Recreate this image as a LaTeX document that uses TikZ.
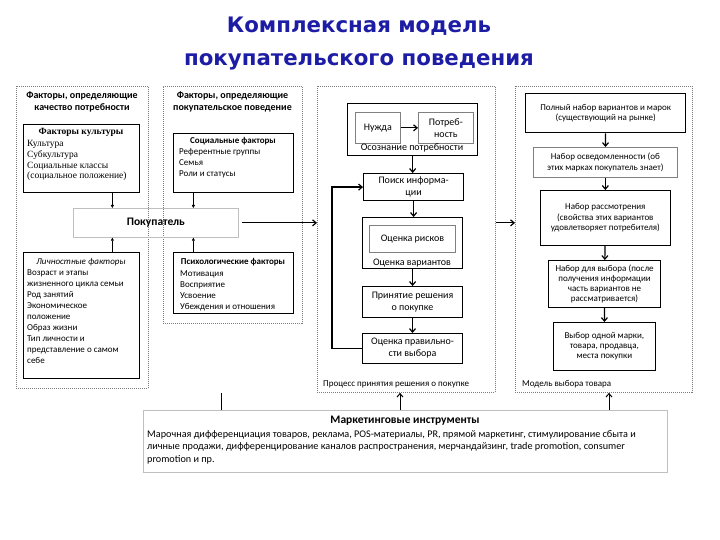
\documentclass[tikz,border=0pt]{standalone}
\usepackage{fontspec}
\setmainfont{Carlito}
\newfontfamily\titlefont{DejaVu Sans}
\newfontfamily\timesfont{Liberation Serif}
\usetikzlibrary{arrows.meta}
\definecolor{titleblue}{RGB}{28,28,165}
\definecolor{framegray}{RGB}{125,125,125}

\begin{document}
\begin{tikzpicture}[x=1pt,y=-1pt,
  group/.style={draw=framegray,dash pattern=on 1pt off 1pt,line width=0.8pt,anchor=north west,inner sep=0pt},
  box/.style={draw,line width=0.7pt,anchor=north west,inner sep=1pt},
  small/.style={font=\fontsize{9}{10.2}\selectfont},
  flow/.style={font=\fontsize{10}{12}\selectfont},
  head/.style={font=\bfseries\fontsize{10}{12}\selectfont,align=center,inner sep=0pt},
  item/.style={inner sep=0pt,anchor=base west,font=\fontsize{9}{10}\selectfont},
  arrow/.style={-{Straight Barb[length=3.5pt,width=6pt]},line width=1.2pt},
  tick/.style={-{Triangle[length=3pt,width=3pt]},line width=0.5pt}]
  \useasboundingbox (0,0) rectangle (720,540);

  % title
  \node[font=\titlefont\bfseries\fontsize{21.3}{25}\selectfont,text=titleblue,anchor=base] (title1) at (359,33) {Комплексная модель};
  \node[font=\titlefont\bfseries\fontsize{21.3}{25}\selectfont,text=titleblue,anchor=base] (title2) at (359,66) {покупательского поведения};

  % dotted groups
  \node[group,minimum width=132pt,minimum height=302pt] (grpA) at (16,86) {};
  \node[group,minimum width=139pt,minimum height=237pt] (grpB) at (163,86) {};
  \node[group,minimum width=178pt,minimum height=306pt] (grpC) at (317,86) {};
  \node[group,minimum width=177pt,minimum height=306pt] (grpD) at (515,86) {};

  \node[head,anchor=north] (hdA) at (82,92) {Факторы, определяющие\\качество потребности};
  \node[head,anchor=north] (hdB) at (232.5,92) {Факторы, определяющие\\покупательское поведение};

  % factor boxes
  \node[box,minimum width=116pt,minimum height=68pt] (cult) at (23,124) {};
  \node[item,anchor=base,font=\timesfont\bfseries\fontsize{9.5}{11}\selectfont] (cultH) at (81,135) {Факторы культуры};
  \foreach \t [count=\i from 0] in {Культура,Субкультура,Социальные классы,{(социальное положение)}}
    \node[item,font=\timesfont\fontsize{9.5}{11}\selectfont] (cult-\i) at (27,146.7+10.7*\i) {\t};

  \node[box,minimum width=120pt,minimum height=59pt] (soc) at (173,133) {};
  \node[item,anchor=base,font=\bfseries\fontsize{9}{10}\selectfont] (socH) at (233,144) {Социальные факторы};
  \foreach \t [count=\i from 0] in {Референтные группы,Семья,Роли и статусы}
    \node[item] (soc-\i) at (179,155+11*\i) {\t};

  \node[box,draw=lightgray,minimum width=165pt,minimum height=29pt,font=\bfseries\fontsize{11.5}{13}\selectfont] (buyer) at (73,208) {Покупатель};

  \node[box,minimum width=116pt,minimum height=126pt] (pers) at (23,252) {};
  \node[item,anchor=base,font=\itshape\fontsize{9}{10}\selectfont] (persH) at (81,264) {Личностные факторы};
  \foreach \t [count=\i from 0] in {Возраст и этапы,жизненного цикла семьи,Род занятий,Экономическое,положение,Образ жизни,Тип личности и,представление о самом,себе}
    \node[item] (pers-\i) at (27,275+11.1*\i) {\t};

  \node[box,minimum width=120pt,minimum height=61pt] (psy) at (173,252) {};
  \node[item,anchor=base,font=\bfseries\fontsize{9}{10}\selectfont] (psyH) at (233,264) {Психологические факторы};
  \foreach \t [count=\i from 0] in {Мотивация,Восприятие,Усвоение,Убеждения и отношения}
    \node[item] (psy-\i) at (180,276+11*\i) {\t};

  \coordinate (c1) at ([xshift=31pt]cult.south);
  \coordinate (c2) at ([xshift=-40pt]soc.south);
  \coordinate (c3) at ([xshift=31pt]pers.north);
  \coordinate (c4) at ([xshift=-40pt]psy.north);
  \draw[tick] (c1) -- (c1 |- buyer.north);
  \draw[tick] (c2) -- (c2 |- buyer.north);
  \draw[tick] (c3) -- (c3 |- buyer.south);
  \draw[tick] (c4) -- (c4 |- buyer.south);

  % decision process
  \node[box,line width=1.3pt,minimum width=130pt,minimum height=52pt] (aware) at (347,103) {};
  \node[box,draw=gray,minimum width=45pt,minimum height=31pt,flow] (need) at (355,112) {Нужда};
  \node[box,draw=gray,minimum width=55pt,minimum height=31pt,flow,align=center] (potr) at (418,112) {Потреб-\\ность};
  \node[flow,anchor=base,inner sep=0pt] (awareL) at (412,151) {Осознание потребности};
  \node[box,line width=1.2pt,minimum width=100pt,minimum height=27pt,flow,align=center] (search) at (363,173) {Поиск информа-\\ции};
  \node[box,line width=1.2pt,minimum width=100pt,minimum height=51pt] (evalv) at (362,217) {};
  \node[box,draw=gray,line width=1pt,minimum width=86pt,minimum height=27pt,flow] (risk) at (369,225) {Оценка рисков};
  \node[flow,anchor=base,inner sep=0pt] (evalvL) at (412,265) {Оценка вариантов};
  \node[box,line width=1pt,minimum width=100pt,minimum height=31pt,flow,align=center] (decide) at (362,286) {Принятие решения\\о покупке};
  \node[box,line width=1pt,minimum width=100pt,minimum height=30pt,flow,align=center] (post) at (362,333) {Оценка правильно-\\сти выбора};
  \node[small,anchor=base west,inner sep=0pt] (grpCL) at (323,386) {Процесс принятия решения о покупке};

  \draw[arrow] (need) -- (potr);
  \draw[arrow] (aware.south) -- (aware.south |- search.north);
  \foreach \a/\b in {search/evalv,evalv/decide,decide/post}
    \draw[arrow] (\a.south) -- (\a.south |- \b.north);
  \draw[arrow] (post.west) -- ++(-30,0) |- (search.west);

  % choice model
  \node[box,line width=1.4pt,minimum width=160pt,minimum height=39pt,small,align=center] (full) at (525,93) {Полный набор вариантов и марок\\(существующий на рынке)};
  \node[box,draw=gray,minimum width=144pt,minimum height=30pt,small,align=center] (know) at (533,147) {Набор осведомленности (об\\этих марках покупатель знает)};
  \node[box,minimum width=130pt,minimum height=55pt,small,align=center] (consider) at (540,190) {Набор рассмотрения\\(свойства этих вариантов\\удовлетворяет потребителя)};
  \node[box,line width=1.1pt,minimum width=112pt,minimum height=47pt,small,align=center] (choice) at (548,260) {Набор для выбора (после\\получения информации\\часть вариантов не\\рассматривается)};
  \node[box,minimum width=102pt,minimum height=48pt,small,align=center] (pick) at (553,322) {Выбор одной марки,\\товара, продавца,\\места покупки};
  \node[small,anchor=base west,inner sep=0pt] (grpDL) at (522,386) {Модель выбора товара};

  \foreach \a/\b in {full/know,know/consider,consider/choice,choice/pick}
    \draw[arrow] (\a) -- (\b);

  \draw[arrow] ([xshift=3pt]buyer.east) -- (buyer.east -| grpC.west);
  \draw[arrow] (buyer.east -| grpC.east) -- (buyer.east -| grpD.west);

  % marketing
  \node[box,draw=lightgray,minimum width=524pt,minimum height=62pt] (mkt) at (143,410) {};
  \node[font=\bfseries\fontsize{11.5}{13}\selectfont,anchor=base,inner sep=0pt] (mktH) at (405,423) {Маркетинговые инструменты};
  \node[anchor=north west,align=left,inner sep=0pt,font=\fontsize{10.2}{12.5}\selectfont] (mktT) at (147,430)
    {Марочная дифференциация товаров, реклама, POS-материалы, PR, прямой маркетинг, стимулирование сбыта и\\
     личные продажи, дифференцирование каналов распространения, мерчандайзинг, trade promotion, consumer\\
     promotion и пр.};

  \coordinate (mk1) at ([xshift=78pt]mkt.north west);
  \coordinate (mk1top) at (mk1 |- 0,393);
  \coordinate (mk2) at ([xshift=257pt]mkt.north west);
  \coordinate (mk3) at ([xshift=466pt]mkt.north west);
  \draw[line width=1pt] (mk1) -- (mk1top);
  \draw[arrow,line width=1pt] (mk2) -- (mk2 |- grpC.south);
  \draw[arrow,line width=1pt] (mk3) -- (mk3 |- grpD.south);
\end{tikzpicture}
\end{document}
